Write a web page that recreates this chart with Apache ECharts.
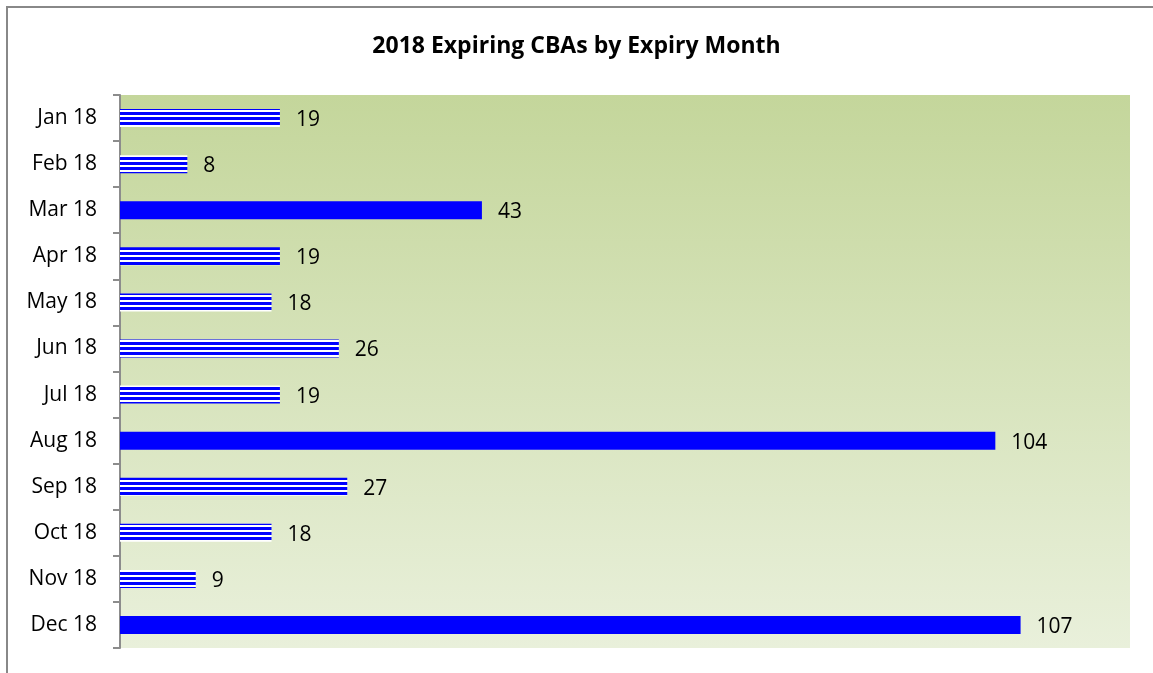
<!DOCTYPE html>
<html>
<head>
<meta charset="utf-8">
<script src="https://cdn.jsdelivr.net/npm/echarts@6/dist/echarts.min.js"></script>
<style>
  html, body { margin: 0; padding: 0; background: #fff; }
  #chart { width: 1153px; height: 673px; }
</style>
</head>
<body>
<div id="chart"></div>
<script>
var months = ['Jan 18', 'Feb 18', 'Mar 18', 'Apr 18', 'May 18', 'Jun 18',
              'Jul 18', 'Aug 18', 'Sep 18', 'Oct 18', 'Nov 18', 'Dec 18'];
var counts = [19, 8, 43, 19, 18, 26, 19, 104, 27, 18, 9, 107];
// true = solid fill, false = striped fill
var solid = [false, false, true, false, false, false, false, true, false, false, false, true];

// horizontal stripe pattern (blue / white)
function stripes() {
  var c = document.createElement('canvas');
  c.width = 4; c.height = 5;
  var ctx = c.getContext('2d');
  ctx.fillStyle = '#ffffff';
  ctx.fillRect(0, 0, 4, 5);
  ctx.fillStyle = '#0000ff';
  ctx.fillRect(0, 2, 4, 3);
  return c;
}
var stripeImg = stripes();

var barData = [];
for (var i = 0; i < counts.length; i++) {
  barData.push({
    value: counts[i],
    itemStyle: {
      color: solid[i] ? '#0000ff' : { image: stripeImg, repeat: 'repeat' }
    }
  });
}

var myChart = echarts.init(document.getElementById('chart'));
var option = {
  animation: false,
  backgroundColor: '#ffffff',
  textStyle: { fontFamily: 'Open Sans' },
  title: {
    text: '2018 Expiring CBAs by Expiry Month',
    left: 'center',
    top: 30,
    textStyle: { fontSize: 23, fontWeight: 'bold', color: '#000', fontFamily: 'Open Sans' }
  },
  graphic: [{
    type: 'rect',
    shape: { x: 7, y: 7, width: 1300, height: 800 },
    style: { fill: 'none', stroke: '#888888', lineWidth: 2 },
    z: 100
  }],
  grid: {
    left: 120, top: 95, right: 23, bottom: 25,
    show: true,
    borderWidth: 0,
    backgroundColor: {
      type: 'linear', x: 0, y: 0, x2: 0, y2: 1,
      colorStops: [
        { offset: 0, color: '#c4d69b' },
        { offset: 1, color: '#e9f0db' }
      ]
    }
  },
  xAxis: {
    type: 'value',
    min: 0,
    max: 120,
    show: false,
    splitLine: { show: false }
  },
  yAxis: {
    type: 'category',
    data: months,
    inverse: true,
    axisLine: { show: true, lineStyle: { color: '#8c8c8c', width: 2 } },
    axisTick: { show: true, length: 7, lineStyle: { color: '#8c8c8c', width: 2 } },
    axisLabel: { fontSize: 21, color: '#000', margin: 23, padding: [3, 0, 0, 0], fontFamily: 'Open Sans' }
  },
  series: [{
    type: 'bar',
    data: barData,
    barWidth: 18,
    label: {
      show: true,
      position: 'right',
      distance: 16,
      offset: [0, 2],
      fontSize: 21,
      color: '#000',
      fontFamily: 'Open Sans'
    }
  }]
};
myChart.setOption(option);
</script>
</body>
</html>
